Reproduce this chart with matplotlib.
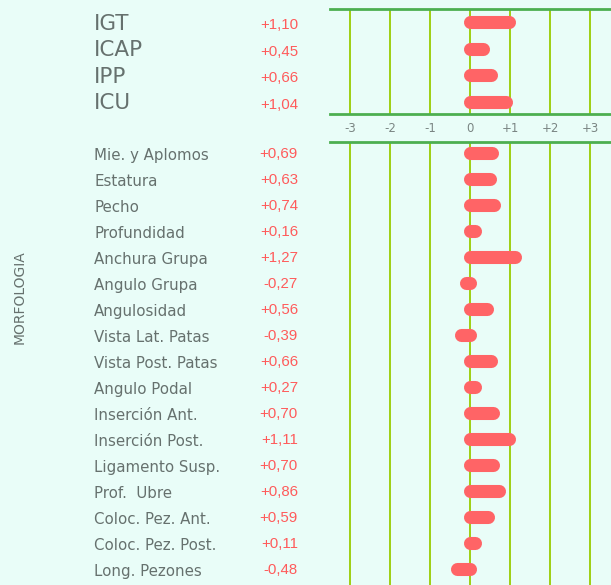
import matplotlib.pyplot as plt
from matplotlib.transforms import blended_transform_factory

# indices globales
idx_labels = ["IGT", "ICAP", "IPP", "ICU"]
idx_values = [1.10, 0.45, 0.66, 1.04]

# caracteres de morfologia
morf_labels = ["Mie. y Aplomos", "Estatura", "Pecho", "Profundidad", "Anchura Grupa",
               "Angulo Grupa", "Angulosidad", "Vista Lat. Patas", "Vista Post. Patas",
               "Angulo Podal", "Inserción Ant.", "Inserción Post.", "Ligamento Susp.",
               "Prof.  Ubre", "Coloc. Pez. Ant.", "Coloc. Pez. Post.", "Long. Pezones"]
morf_values = [0.69, 0.63, 0.74, 0.16, 1.27, -0.27, 0.56, -0.39, 0.66,
               0.27, 0.70, 1.11, 0.70, 0.86, 0.59, 0.11, -0.48]

ticks = [-3, -2, -1, 0, 1, 2, 3]
tick_labels = ["-3", "-2", "-1", "0", "+1", "+2", "+3"]

BG = "#e9fdf8"
GRID = "#99cc00"
HLINE = "#4caf50"
BAR = "#ff6466"
TXT = "#66716e"
RED = "#ff5b5b"

W, H = 611, 585


def fmt(v):
    s = "{:+.2f}".format(v)
    return s.replace(".", ",")


def draw_bars(ax, values):
    r = 0.1625  # medio alto de barra en unidades x
    for i, v in enumerate(values):
        if v >= 0:
            end = max(v - 0.135, 0.13)
        else:
            end = v + r
        ax.plot([0.01, end], [i, i], color=BAR, lw=9.4, solid_capstyle="round", zorder=3)


def setup(ax, ylim):
    ax.set_facecolor("none")
    ax.set_xlim(-3.5, 3.525)
    ax.set_ylim(*ylim)
    for x in ticks:
        ax.axvline(x, color=GRID, lw=1.3, zorder=1)
    for s in ["left", "right", "bottom", "top"]:
        ax.spines[s].set_visible(False)
    ax.set_yticks([])


fig = plt.figure(figsize=(W / 100, H / 100), dpi=100)
fig.patch.set_facecolor(BG)

x0 = 330 / W
ax1 = fig.add_axes([x0, 1 - 114 / H, 1 - x0, (114 - 9) / H])
ax2 = fig.add_axes([x0, 0, 1 - x0, (H - 141.7) / H])

setup(ax1, (3.45, -0.5))
for s in ["top", "bottom"]:
    ax1.spines[s].set_visible(True)
    ax1.spines[s].set_color(HLINE)
    ax1.spines[s].set_linewidth(2)
ax1.set_xticks(ticks)
ax1.set_xticklabels(tick_labels, color="#7a8583", fontsize=8.5)
ax1.tick_params(axis="x", length=0, pad=6)

setup(ax2, (16.63, -0.435))
ax2.spines["top"].set_visible(True)
ax2.spines["top"].set_color(HLINE)
ax2.spines["top"].set_linewidth(2)
ax2.set_xticks([])

draw_bars(ax1, idx_values)
draw_bars(ax2, morf_values)

# etiquetas a la izquierda
t1 = blended_transform_factory(fig.transFigure, ax1.transData)
for i, (lab, v) in enumerate(zip(idx_labels, idx_values)):
    fig.text(94 / W, i + 0.05, lab, transform=t1, fontsize=15.5, color=TXT,
             ha="left", va="center")
    fig.text(298 / W, i + 0.1, fmt(v), transform=t1, fontsize=10.8, color=RED,
             ha="right", va="center", family="Liberation Sans")

t2 = blended_transform_factory(fig.transFigure, ax2.transData)
for i, (lab, v) in enumerate(zip(morf_labels, morf_values)):
    fig.text(94 / W, i + 0.1, lab, transform=t2, fontsize=10.8, color=TXT,
             ha="left", va="center")
    fig.text(298 / W, i + 0.05, fmt(v), transform=t2, fontsize=10.8, color=RED,
             ha="right", va="center", family="Liberation Sans")

fig.text(20 / W, 1 - 297 / H, "MORFOLOGIA", rotation=90, fontsize=10, color=TXT,
         ha="center", va="center")

fig.savefig("out.png", dpi=100, facecolor=BG)
